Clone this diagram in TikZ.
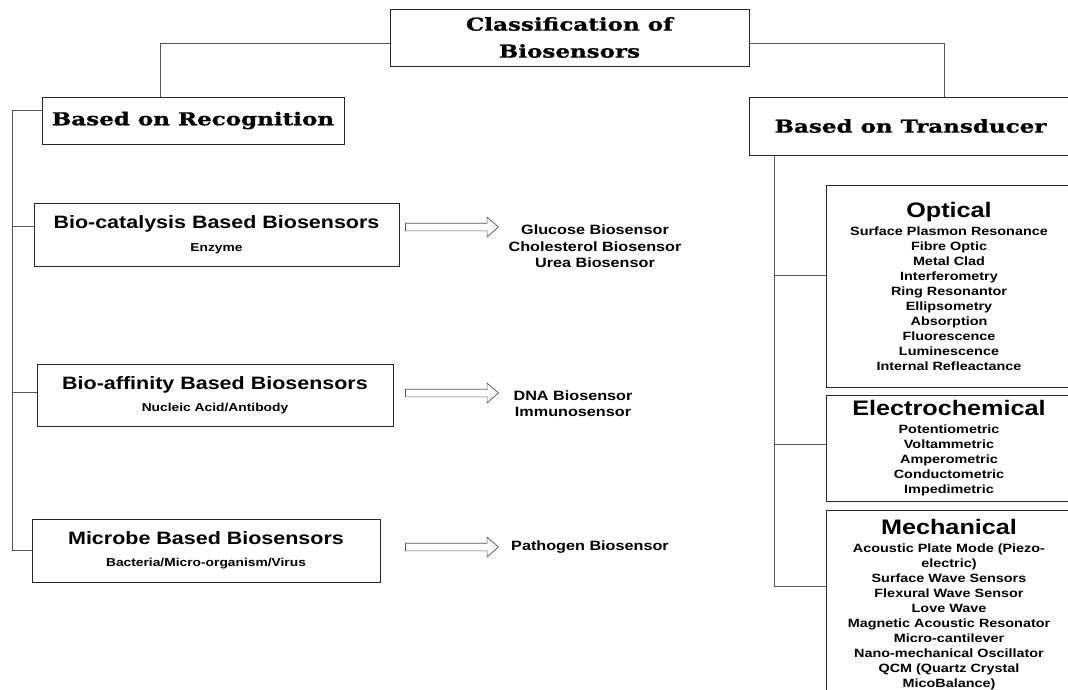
\documentclass[tikz,border=0pt]{standalone}
\usepackage{fontspec}
\usetikzlibrary{positioning,arrows.meta,calc,shapes.arrows}
\newfontfamily\headfont[FakeStretch=1.3,BoldFeatures={FakeBold=1}]{DejaVu Serif}
\newfontfamily\boxfont[FakeStretch=1.2]{Liberation Sans}
\definecolor{lngray}{RGB}{85,85,85}
\newcommand{\kindhead}[1]{{\fontsize{17.9}{20}\selectfont #1}}
\newcommand{\typehead}[1]{{\fontsize{21}{24}\selectfont #1}}
\tikzset{
  headbox/.style={draw=black!85,line width=0.9pt,align=center,inner sep=0pt,font=\headfont\bfseries\fontsize{17.7}{27}\selectfont},
  kindbox/.style={draw=black!85,line width=0.9pt,align=center,inner sep=0pt,font=\boxfont\bfseries\fontsize{11.5}{13}\selectfont},
  typebox/.style={draw=black!85,line width=0.9pt,align=center,inner sep=0pt,font=\boxfont\bfseries\fontsize{12}{15}\selectfont},
  outlist/.style={align=center,inner sep=2pt,font=\boxfont\bfseries\fontsize{13.5}{16.5}\selectfont},
  link/.style={draw=lngray,line width=0.8pt},
  blockarrow/.style={single arrow,draw=lngray,line width=0.7pt,inner xsep=0pt,inner ysep=3.5pt,outer sep=0pt,anchor=west,
    minimum height=93pt,minimum width=19pt,single arrow head extend=6pt,single arrow tip angle=82}
}
\begin{document}
\begin{tikzpicture}[x=1pt,y=-1pt]
  \useasboundingbox (0,0) rectangle (1068,690);
  \begin{scope}
  \clip (0,0) rectangle (1068,690);
  % top of the tree
  \node[headbox,minimum width=359pt,minimum height=57pt] (cls) at (569.5,37.5) {Classification of\\Biosensors};
  \node[headbox,minimum width=302pt,minimum height=47pt] (recog) at (193,120.5) {Based on Recognition};
  \node[headbox,minimum width=323pt,minimum height=58pt] (trans) at (910.5,126) {Based on Transducer};
  \draw[link] ([yshift=-5.5pt]cls.west) -| ([xshift=-33pt]recog.north);
  \draw[link] ([yshift=-5.5pt]cls.east) -| ([xshift=33.5pt]trans.north);

  % recognition side
  \node[kindbox,minimum width=365pt,minimum height=63pt] (cat) at (216.5,234.5) {\kindhead{Bio-catalysis Based Biosensors}\\[10pt]Enzyme};
  \node[kindbox,minimum width=356pt,minimum height=62pt] (aff) at (215,395) {\kindhead{Bio-affinity Based Biosensors}\\[9pt]Nucleic Acid/Antibody};
  \node[kindbox,minimum width=348pt,minimum height=63pt] (mic) at (206,550.5) {\kindhead{Microbe Based Biosensors}\\[9pt]Bacteria/Micro-organism/Virus};
  \coordinate (lspine) at (12,110.5);
  \draw[link] ([yshift=10pt]recog.west) -- (lspine) |- (mic.west);
  \draw[link] ([yshift=8.5pt]cat.west) -| (lspine);
  \draw[link] ([yshift=3pt]aff.west) -| (lspine);

  \node[outlist] (glu) at (595,246.5) {Glucose Biosensor\\Cholesterol Biosensor\\Urea Biosensor};
  \node[outlist] (dna) at (573,403.5) {DNA Biosensor\\Immunosensor};
  \node[outlist] (pat) at (590,547) {Pathogen Biosensor};
  \node[blockarrow] (arr1) at ([xshift=6pt,yshift=7.5pt]cat.east) {};
  \node[blockarrow] (arr2) at ([xshift=12pt,yshift=2pt]aff.east) {};
  \node[blockarrow] (arr3) at ([xshift=25pt,yshift=3.5pt]mic.east) {};

  % transducer side
  \node[typebox,minimum width=246pt,minimum height=202pt] (opt) at (949,286) {\typehead{Optical}\\[3pt]Surface Plasmon Resonance\\Fibre Optic\\Metal Clad\\Interferometry\\Ring Resonantor\\Ellipsometry\\Absorption\\Fluorescence\\Luminescence\\Internal Refleactance};
  \node[typebox,minimum width=246pt,minimum height=106pt] (ele) at (949,448) {\typehead{Electrochemical}\\[3pt]Potentiometric\\Voltammetric\\Amperometric\\Conductometric\\Impedimetric};
  \node[typebox,minimum width=246pt,minimum height=190pt] (mec) at (949,605) {\typehead{Mechanical}\\[3pt]Acoustic Plate Mode (Piezo-\\electric)\\Surface Wave Sensors\\Flexural Wave Sensor\\Love Wave\\Magnetic Acoustic Resonator\\Micro-cantilever\\Nano-mechanical Oscillator\\QCM (Quartz Crystal\\MicoBalance)};
  \coordinate (rspine) at ([xshift=26pt]trans.south west);
  \draw[link] (rspine) |- ([yshift=19pt]mec.west);
  \draw[link] ([yshift=11pt]opt.west) -| (rspine);
  \draw[link] ([yshift=3.5pt]ele.west) -| (rspine);
  \end{scope}
\end{tikzpicture}
\end{document}
